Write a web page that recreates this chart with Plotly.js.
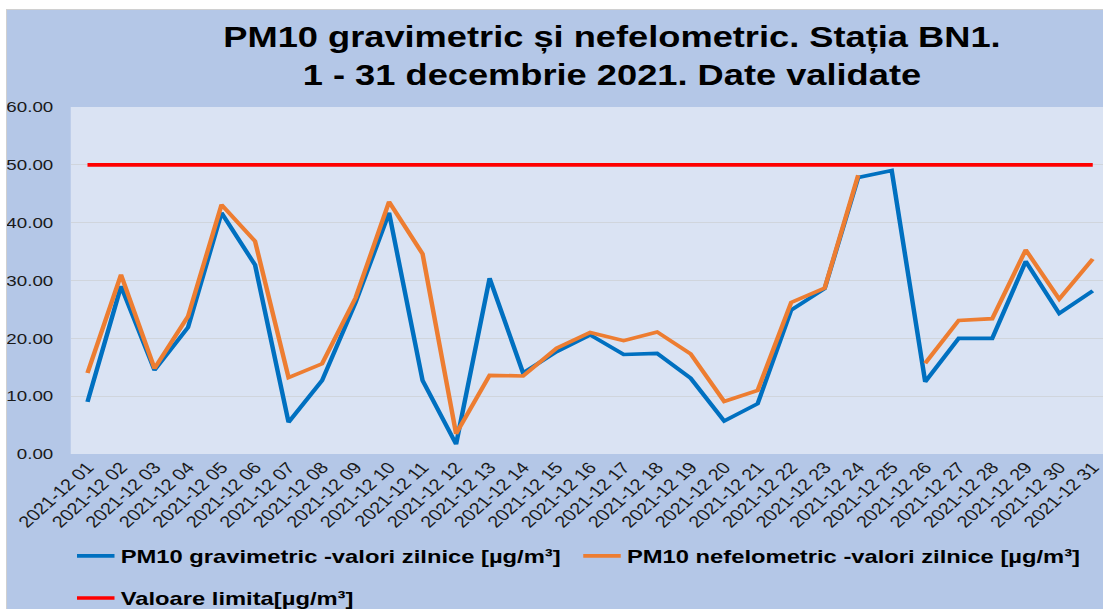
<!DOCTYPE html>
<html>
<head>
<meta charset="utf-8">
<script src="https://cdn.plot.ly/plotly-3.0.1.min.js"></script>
<style>
  html, body { margin:0; padding:0; background:#ffffff; overflow:hidden; width:1103px; height:609px; }
  #frame { position:absolute; left:6px; top:9px; width:1200px; height:700px; border:1px solid #d0d0d0; background:#b4c7e7; }
  #chart { position:absolute; left:7px; top:10px; width:888px; height:599px; transform:scaleX(1.25); transform-origin:0 0; }
</style>
</head>
<body>
<div id="frame"></div>
<div id="chart"></div>
<script>
const dates = ["2021-12 01","2021-12 02","2021-12 03","2021-12 04","2021-12 05","2021-12 06","2021-12 07","2021-12 08","2021-12 09","2021-12 10","2021-12 11","2021-12 12","2021-12 13","2021-12 14","2021-12 15","2021-12 16","2021-12 17","2021-12 18","2021-12 19","2021-12 20","2021-12 21","2021-12 22","2021-12 23","2021-12 24","2021-12 25","2021-12 26","2021-12 27","2021-12 28","2021-12 29","2021-12 30","2021-12 31"];
const gravimetric = [9.0,29.0,14.5,21.9,41.7,32.7,5.5,12.7,26.2,41.7,12.7,1.7,30.4,14.0,17.7,20.6,17.2,17.4,13.1,5.7,8.7,24.9,28.6,47.8,49.0,12.5,20.0,20.0,33.3,24.3,28.2];
const nefelometric = [14.0,31.0,14.8,23.8,43.1,36.8,13.2,15.6,27.0,43.6,34.6,3.5,13.6,13.5,18.3,21.0,19.6,21.1,17.3,9.1,11.0,26.2,28.7,48.2,null,15.7,23.1,23.4,35.3,26.8,33.7];
const limita = [50,50,50,50,50,50,50,50,50,50,50,50,50,50,50,50,50,50,50,50,50,50,50,50,50,50,50,50,50,50,50];
const yTicks = [0,10,20,30,40,50,60];
const yTickText = ["0.00","10.00","20.00","30.00","40.00","50.00","60.00"];
const names = ["PM10 gravimetric -valori zilnice [µg/m³]","PM10 nefelometric -valori zilnice [µg/m³]","Valoare limita[µg/m³]"];

const FONT = "Liberation Sans, Arial, sans-serif";
const traces = [
  {x: dates, y: limita, name: names[2], type: "scatter", mode: "lines", line: {color: "#ff0000", width: 3.6}, legend: "legend2"},
  {x: dates, y: gravimetric, name: names[0], type: "scatter", mode: "lines", line: {color: "#0070c0", width: 3.6}, legend: "legend"},
  {x: dates, y: nefelometric, name: names[1], type: "scatter", mode: "lines", line: {color: "#ed7d31", width: 3.6}, connectgaps: false, legend: "legend"}
];

const layout = {
  width: 888, height: 599,
  paper_bgcolor: "#b4c7e7",
  plot_bgcolor: "#dae3f3",
  margin: {l: 51, r: 6, t: 97, b: 155},
  font: {family: FONT, color: "#1a1a1a"},
  title: {
    text: "PM10 gravimetric și nefelometric. Stația BN1.<br>1 - 31 decembrie 2021. Date validate",
    font: {family: FONT, size: 29, color: "#000000", weight: "bold"},
    x: 0.545, xref: "container", xanchor: "center",
    y: 0.938, yref: "container", yanchor: "middle",
    automargin: false
  },
  xaxis: {
    type: "category",
    tickmode: "array", tickvals: dates, ticktext: dates,
    range: [-0.5, 30.5],
    tickangle: -48,
    tickfont: {family: FONT, size: 16, color: "#1a1a1a"},
    showgrid: false, zeroline: false, showline: false,
    ticks: "", fixedrange: true, automargin: false
  },
  yaxis: {
    range: [0, 60],
    tickmode: "array", tickvals: yTicks, ticktext: yTickText,
    tickfont: {family: FONT, size: 15, color: "#1a1a1a"},
    showgrid: true, gridcolor: "#d0d5dc", gridwidth: 1,
    zeroline: false, showline: false,
    ticks: "outside", ticklen: 10, tickcolor: "rgba(0,0,0,0)",
    fixedrange: true, automargin: false
  },
  showlegend: true,
  legend: {
    orientation: "h", xref: "paper", x: 0, xanchor: "left",
    yref: "container", y: 0.0885, yanchor: "middle",
    bgcolor: "rgba(0,0,0,0)",
    font: {family: FONT, size: 19, color: "#000000", weight: "bold"},
    entrywidth: 360, entrywidthmode: "pixels",
    traceorder: "normal"
  },
  legend2: {
    orientation: "h", xref: "paper", x: 0, xanchor: "left",
    yref: "container", y: 0.018, yanchor: "middle",
    bgcolor: "rgba(0,0,0,0)",
    font: {family: FONT, size: 19, color: "#000000", weight: "bold"}
  }
};

Plotly.newPlot("chart", traces, layout, {displayModeBar: false, responsive: false, staticPlot: true});
</script>
</body>
</html>
